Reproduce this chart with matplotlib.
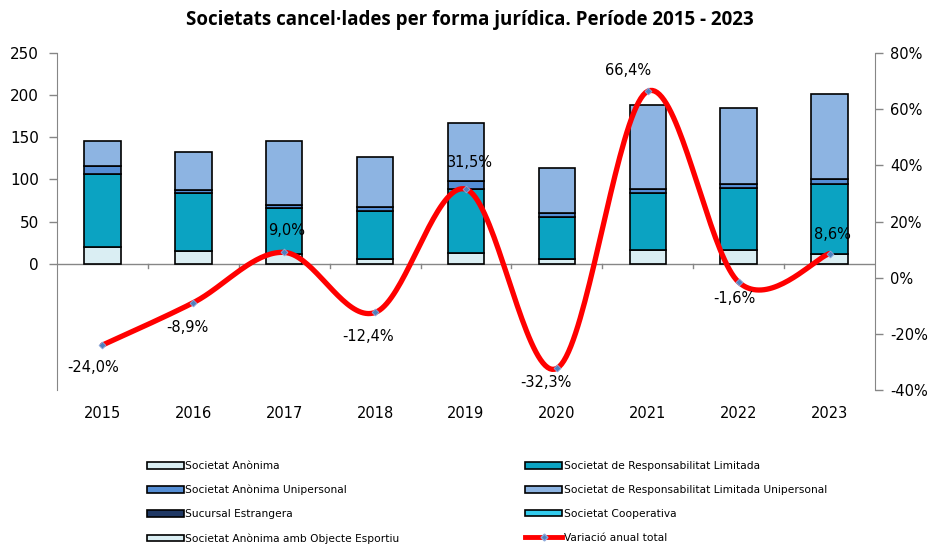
import numpy as np
import matplotlib
matplotlib.use("Agg")
import matplotlib.pyplot as plt
from matplotlib.patches import Patch
from matplotlib.lines import Line2D
import matplotlib.transforms as mtransforms

years = ["2015", "2016", "2017", "2018", "2019", "2020", "2021", "2022", "2023"]
s_anonima = [20, 15, 11, 6, 13, 5, 16, 16, 11]
s_rl = [86, 69, 55, 56, 76, 50, 68, 74, 84]
s_anonima_unip = [10, 3, 4, 5, 9, 5, 5, 4, 5]
s_rl_unip = [30, 46, 75, 60, 69, 53, 99, 91, 101]
sucursal = [0, 0, 0, 0, 0, 0, 0, 0, 0]
cooperativa = [0, 0, 0, 0, 0, 0, 0, 0, 0]
sa_esportiu = [0, 0, 0, 0, 0, 0, 0, 0, 0]
variacio = [-24.0, -8.9, 9.0, -12.4, 31.5, -32.3, 66.4, -1.6, 8.6]

series = [
    ("Societat Anònima", s_anonima, "#DAEEF3"),
    ("Societat de Responsabilitat Limitada", s_rl, "#0BA3C2"),
    ("Societat Anònima Unipersonal", s_anonima_unip, "#558ED5"),
    ("Societat de Responsabilitat Limitada Unipersonal", s_rl_unip, "#8DB4E2"),
    ("Sucursal Estrangera", sucursal, "#1F3864"),
    ("Societat Cooperativa", cooperativa, "#33CCEE"),
    ("Societat Anònima amb Objecte Esportiu", sa_esportiu, "#DAEEF3"),
]

fig = plt.figure(figsize=(9.29, 5.44), dpi=100)
ax = fig.add_axes([57/929, 1-390/544, (875-57)/929, (390-53)/544])
ax2 = ax.twinx()

x = np.arange(len(years))
bottom = np.zeros(len(years))
for name, vals, col in series:
    v = np.array(vals, dtype=float)
    if v.sum() > 0:
        ax.bar(x, v, 0.40, bottom=bottom, color=col, edgecolor="black", linewidth=1.2, zorder=2)
    bottom += v

ax.set_xlim(-0.5, len(years) - 0.5)
ax.set_ylim(-150, 250)
ax.set_yticks(range(0, 251, 50))
ax.tick_params(axis="y", direction="out", length=6, width=1, color="#868686",
               labelsize=11, pad=7)
ax.set_xticks([])
for sp in ["top", "right", "bottom"]:
    ax.spines[sp].set_visible(False)
ax.spines["left"].set_color("#868686")
ax.axhline(0, color="#868686", lw=1, zorder=1)
for b in np.arange(0.5, len(years) - 0.5, 1.0):
    ax.plot([b, b], [0, -5], color="#868686", lw=1, zorder=1, clip_on=False)

trans = mtransforms.blended_transform_factory(ax.transData, ax.transAxes)
for i, y in enumerate(years):
    ax.text(i, -0.07, y, transform=trans, ha="center", va="center", fontsize=10.5)

# smoothed line (Bezier like Excel)
pts = np.column_stack([x.astype(float), np.array(variacio)])
curve = []
n = len(pts)
for i in range(n - 1):
    p0 = pts[i - 1] if i > 0 else pts[i]
    p1 = pts[i]
    p2 = pts[i + 1]
    p3 = pts[i + 2] if i + 2 < n else pts[i + 1]
    c1 = p1 + (p2 - p0) / 6.0
    c2 = p2 - (p3 - p1) / 6.0
    t = np.linspace(0, 1, 40)[:, None]
    seg = (1 - t) ** 3 * p1 + 3 * (1 - t) ** 2 * t * c1 + 3 * (1 - t) * t ** 2 * c2 + t ** 3 * p2
    curve.append(seg if i == 0 else seg[1:])
curve = np.vstack(curve)
ax2.plot(curve[:, 0], curve[:, 1], color="#FF0000", lw=3.8, zorder=3, solid_capstyle="round")
ax2.plot(x, variacio, ls="none", marker="D", ms=3.5, mfc="#4F81BD", mec="#8EA9DB", mew=0.6, zorder=4)

ax2.set_ylim(-40, 80)
ax2.set_yticks(range(-40, 81, 20))
ax2.set_yticklabels([f"{v}%" for v in range(-40, 81, 20)])
ax2.tick_params(axis="y", direction="out", length=6, width=1, color="#868686",
                labelsize=10.5, pad=5)
for sp in ["top", "left", "bottom"]:
    ax2.spines[sp].set_visible(False)
ax2.spines["right"].set_color("#868686")

offsets = [(-7, -16), (-4, -18), (2, 16), (-5, -17), (3, 19), (-8, -10), (-14, 15), (-3, -12), (2, 14)]
for i, v in enumerate(variacio):
    lab = f"{v:.1f}%".replace(".", ",")
    ax2.annotate(lab, (x[i], v), xytext=offsets[i], textcoords="offset points",
                 ha="center", va="center", fontsize=10.5, zorder=5)

fig.text(470/929, 1-20/544, "Societats cancel·lades per forma jurídica. Període 2015 - 2023",
         ha="center", va="center", fontsize=13.5, fontweight="bold", family="Open Sans")

# legend
def ph(name, col):
    return Patch(facecolor=col, edgecolor="black", linewidth=1.2, label=name)
h = {name: ph(name, col) for name, _, col in series}
line_h = Line2D([], [], color="#FF0000", lw=3.5, marker="D", ms=3.5, mfc="#4F81BD", mec="#8EA9DB",
                label="Variació anual total")
col1 = [h["Societat Anònima"], h["Societat Anònima Unipersonal"], h["Sucursal Estrangera"],
        h["Societat Anònima amb Objecte Esportiu"]]
col2 = [h["Societat de Responsabilitat Limitada"], h["Societat de Responsabilitat Limitada Unipersonal"],
        h["Societat Cooperativa"], line_h]
for handles, xl in [(col1, 147), (col2, 525)]:
    fig.legend(handles=handles, loc="upper left", bbox_to_anchor=(xl/929, 1-461/544),
               frameon=False, fontsize=7.7, handlelength=3.5, handleheight=0.6,
               handletextpad=0.1, labelspacing=1.3, borderpad=0, borderaxespad=0)

fig.savefig("out.png", dpi=100)
